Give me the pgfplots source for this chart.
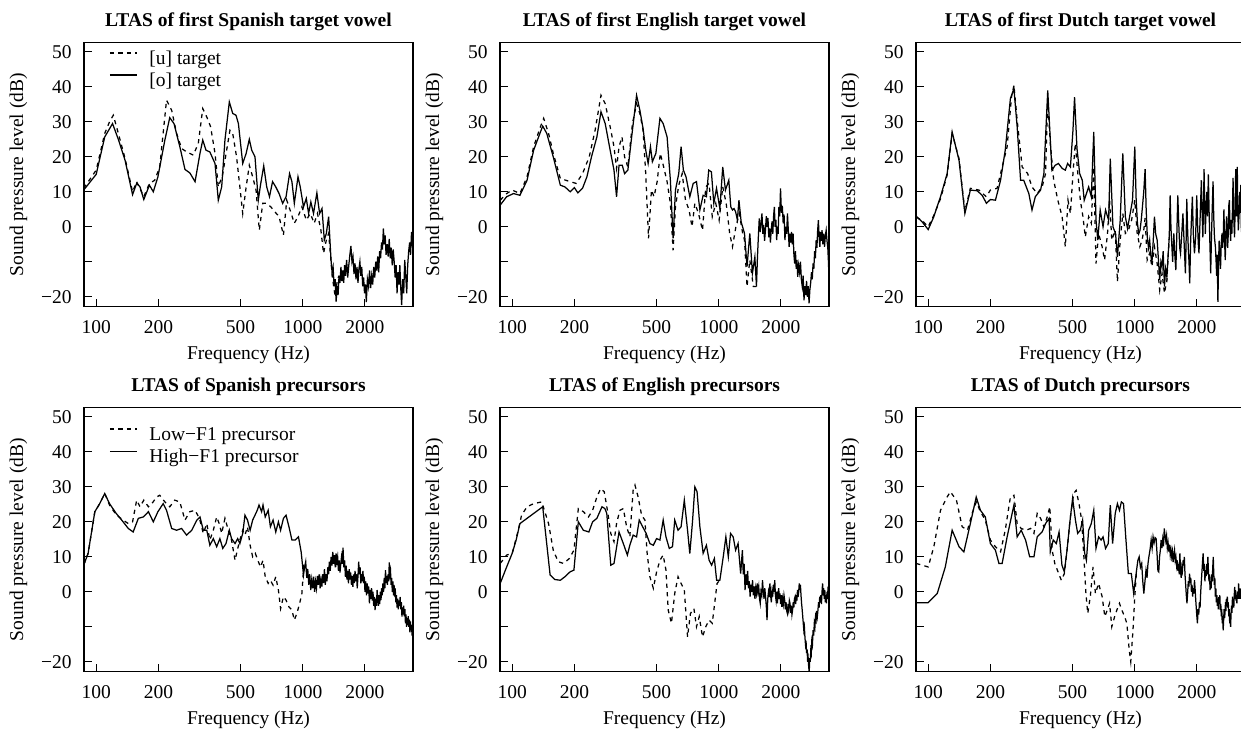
\documentclass[border=0pt]{standalone}
\usepackage{fontspec}
\setmainfont{Liberation Serif}
\usepackage{pgfplots}
\pgfplotsset{compat=1.18}
\usepgfplotslibrary{groupplots}

\newcommand{\lblfont}{\fontsize{19.5bp}{23bp}\selectfont}
\tikzset{
  dsh/.style={black, line width=1.25bp, dash pattern=on 4.2bp off 4.3bp},
  sld/.style={black, line width=1.25bp},
}
\pgfplotsset{
  ltas/.style={
    scale only axis, width=329bp, height=264.4bp,
    xmode=log, xmin=87.3, xmax=3416, ymin=-22.85, ymax=52.75,
    xtick={100,200,500,1000,2000}, xticklabels={100,200,500,1000,2000},
    ytick={-20,-10,0,10,20,30,40,50}, yticklabels={−20,,0,10,20,30,40,50},
    xminorticks=false, yminorticks=false,
    tick align=inside, xtick pos=bottom, ytick pos=left,
    major tick length=8bp, tick style={black, line width=1bp},
    axis line style={black, line width=1.2bp},
    /pgf/number format/assume math mode=true,
    font=\lblfont,
    xticklabel style={font=\lblfont, anchor=base, inner sep=0pt, yshift=-26.6bp},
    yticklabel style={font=\lblfont, anchor=east, inner sep=0pt, xshift=-12.3bp},
    xlabel={Frequency (Hz)}, ylabel={Sound pressure level (dB)},
    xlabel style={font=\lblfont, at={(axis description cs:0.5,0)}, anchor=base, inner sep=0pt, yshift=-52.6bp},
    ylabel style={font=\lblfont, at={(axis description cs:-0.185,0.5)}, anchor=base, inner sep=0pt},
    title style={font=\bfseries\lblfont, at={(axis description cs:0.5,1)}, anchor=base, inner sep=0pt, yshift=9.4bp},
    legend cell align=left,
    legend image code/.code={\draw[#1] (0bp,5.5bp) -- (27bp,5.5bp);},
  },
}

\begin{document}
\begin{tikzpicture}
\begin{groupplot}[group style={group size=3 by 2, horizontal sep=87bp, vertical sep=100.6bp}, ltas]

% ---------- first Spanish target vowel ----------
\nextgroupplot[title={LTAS of first Spanish target vowel},
  legend style={draw=none, fill=none, at={(axis description cs:0.076,0.968)}, anchor=north west,
    inner sep=0pt, row sep=7bp, column sep=12bp, nodes={inner sep=0pt}, font=\lblfont}]
\coordinate (tl) at (rel axis cs:0,1);
\addplot[dsh] coordinates {(87,11)(100,16.2)(110,26.7)(116,30)(121,31.9)(128,26.7)(138,19.5)(150,10)(157,12.9)(170,8.6)(181,12.4)(192,13.3)(203,17.1)(219,36.2)(232,33.3)(245,26.7)(259,22.4)(274,21.4)(295,20.5)(312,23.8)(328,33.8)(343,31.4)(358,28.6)(376,21)(390,11.4)(409,14.8)(428,21.9)(444,27.6)(458,26.7)(478,20)(496,11.4)(512,3.8)(532,11.4)(551,17.6)(572,14.3)(594,10.5)(616,-1)(640,6.7)(669,6.7)(700,5.7)(732,4.3)(768,2.9)(806,-2.4)(836,7.6)(868,4.8)(910,1)(948,2.9)(990,5.7)(1040,1.9)(1087,3.8)(1136,1)(1178,3.8)(1224,-1)(1260,-7.6)(1300,-3.8)(1334,-1.9)(1390,-14.3)(1435,-20)(1470,-15.2)(1498,-14)};
\addlegendentry{[u] target}
\addplot[sld] coordinates {(87,10.5)(100,15)(110,25.7)(120,29.5)(128,25)(138,19)(150,9.2)(157,12.4)(163,11.4)(170,7.8)(181,11.9)(189,10)(199,14.3)(215,24.8)(227,31.2)(238,29.5)(254,22.9)(269,16.4)(284,15.4)(301,12.9)(318,21)(328,24.8)(340,21.9)(355,21.4)(376,18.1)(390,7.6)(405,11.4)(420,24.8)(441,35.7)(458,32.4)(475,31.9)(488,29.5)(512,18.1)(532,21)(551,25)(566,21.9)(587,20)(609,7.6)(624,11.9)(647,17.4)(669,11.4)(690,8.6)(714,12.9)(740,11.4)(768,9.5)(799,6.7)(830,8.6)(863,15.2)(886,12.9)(910,6.7)(948,14.3)(972,11.4)(1008,5.7)(1040,8.1)(1067,3.8)(1094,7.1)(1127,3.8)(1170,9.7)(1206,3.8)(1239,5.2)(1271,-3.8)(1300,-1.9)(1334,2.9)(1370,-9.5)(1386,-13)(1402,-11.5)(1418,-17)(1434,-15)(1450,-21.4)(1466,-17)(1482,-19.5)(1498,-14)(1514,-16)(1530,-11.5)(1546,-15.5)(1562,-12.5)(1578,-16)(1594,-11)(1610,-14)(1630,-9.5)(1650,-14.5)(1670,-11)(1690,-8)(1710,-5.5)(1730,-10)(1750,-8.5)(1770,-13.5)(1790,-10.5)(1810,-15)(1830,-11.5)(1850,-16)(1870,-12)(1890,-10)(1910,-14)(1930,-11.5)(1950,-17)(1970,-14.5)(1990,-19)(2010,-16.5)(2030,-21.5)(2055,-15)(2080,-17)(2105,-12.5)(2130,-17.5)(2155,-14)(2180,-16.5)(2205,-11.5)(2230,-14.5)(2255,-10)(2280,-12.5)(2305,-8.5)(2330,-13)(2355,-7)(2380,-9)(2405,-4.5)(2430,-6.5)(2455,-0.5)(2480,-5)(2505,-2.5)(2530,-8)(2560,-5)(2590,-8.5)(2620,-3.5)(2650,-9)(2680,-6)(2710,-11)(2740,-6.5)(2770,-10)(2800,-14.5)(2830,-11)(2860,-19)(2890,-13)(2920,-16.5)(2950,-11)(2980,-17.5)(3010,-22.4)(3045,-15)(3080,-19)(3115,-9.5)(3150,-14)(3185,-19)(3220,-11)(3255,-7)(3290,-4.5)(3325,-8)(3360,-1.5)(3395,-5)(3430,-7.6)};
\addlegendentry{[o] target}

% ---------- first English target vowel ----------
\nextgroupplot[title={LTAS of first English target vowel}]
\addplot[dsh] coordinates {(87.5,7.6)(94,9.5)(100,10.5)(109,9.5)(118,14.3)(127,22.9)(137,28.6)(142,31)(150,26.7)(158,21)(171,13.8)(191,12.9)(204,12.4)(219,15.2)(236,20)(252,27.6)(269,37.6)(282,35.2)(298,28.6)(311,22.9)(320,16.7)(329,22.9)(340,25.7)(350,20)(363,17.1)(382,29.5)(400,35.2)(415,32.4)(430,27.6)(443,15.2)(457,-3.3)(472,10.5)(486,8.6)(503,12.9)(521,21)(541,17.1)(562,12.9)(583,6.7)(601,-6.7)(617,5.7)(640,11.9)(665,15.2)(690,7.6)(718,4.8)(742,0)(766,6.7)(798,3.8)(834,-1)(865,11.4)(897,12.4)(930,2.9)(967,6.7)(1004,1.9)(1045,11.4)(1086,6.7)(1129,-1.9)(1165,-5.7)(1210,0)(1257,3.8)(1305,-1.9)(1332,-3.8)(1370,-17.1)(1413,-9.5)(1470,-17.1)(1522,-17.1)};
\addplot[sld] coordinates {(87.5,6.2)(94,8.6)(101.5,9.5)(109,9)(118,13.3)(127,21.9)(137,27.1)(140.5,28.8)(147,26.7)(158,20)(171,11.9)(180,11.4)(191,10)(200,11.2)(208,9.7)(219,11)(230,14.3)(242,20)(257,25.7)(269,32.9)(282,29.5)(298,21.9)(311,16.2)(320,8.6)(329,17.6)(341,17.6)(350,15.2)(363,16.2)(382,27.6)(400,37.6)(415,33.3)(430,28.1)(443,21.9)(455,18.1)(467,22.9)(477,18.6)(496,21)(519,31)(538,29.5)(562,25.7)(583,13.3)(601,-3.3)(617,10.5)(640,15.2)(657,22.9)(674,16.2)(694,14.3)(724,8.6)(752,12.4)(780,12.9)(810,4.8)(840,9)(871,8.6)(894,16.2)(921,15.7)(946,6.7)(975,11)(1012,5.2)(1045,17.1)(1077,10.5)(1118,13.3)(1143,5.7)(1165,4.8)(1185,5.2)(1206,4.3)(1230,2)(1252,7.6)(1283,1.4)(1332,-1.9)(1370,-11.4)(1413,-1.9)(1455,-13.3)(1495,-8.6)(1522,-17.1)(1538,-9)(1554,-3)(1570,2.4)(1586,-1.5)(1602,1)(1618,3.8)(1634,-2)(1650,0.5)(1666,-4)(1682,-1)(1698,3)(1714,0)(1730,2.5)(1746,-3)(1762,-0.5)(1778,-4.5)(1794,-1)(1810,1.5)(1826,-2)(1842,3)(1858,5.7)(1874,0)(1890,2)(1906,-3.8)(1922,0)(1938,-2)(1954,5.7)(1972,3)(1990,11)(2010,4)(2030,6)(2050,1)(2070,3.5)(2090,-3.8)(2110,0)(2130,-2)(2150,3.8)(2170,-1)(2190,-5.7)(2210,-2)(2230,-4.5)(2250,-1.5)(2270,-5)(2290,-2)(2310,-8)(2330,-10.5)(2350,-7)(2370,-12)(2390,-9.5)(2410,-14.3)(2435,-11)(2460,-13)(2485,-10)(2510,-15)(2535,-17.1)(2560,-14)(2585,-21)(2610,-17)(2635,-19.5)(2660,-15.5)(2685,-20)(2710,-17)(2735,-21.9)(2760,-18)(2785,-16)(2810,-13)(2835,-15)(2860,-10.5)(2885,-12)(2910,-7)(2935,-9)(2960,-3.8)(2985,-6)(3010,-1)(3035,1.9)(3060,-3)(3085,-5.7)(3110,-1.5)(3135,-4)(3160,-1)(3190,-5)(3220,-2)(3250,-5.7)(3280,-2.5)(3310,-1)(3340,-4)(3370,-6)(3395,-10)(3413,-14.3)};

% ---------- first Dutch target vowel ----------
\nextgroupplot[title={LTAS of first Dutch target vowel}]
\addplot[dsh] coordinates {(87.5,2.8)(93.5,1.8)(100,0)(106.5,3.3)(114.7,8)(123.5,14.8)(130.6,26.7)(141,19.5)(150.5,4.5)(160,11)(176,10.5)(191,8.6)(200,10.5)(215.5,11)(228,17.1)(241,22.9)(253,37.1)(260,40.5)(269.5,30.5)(285,17.1)(303,15.2)(318,11.4)(337,9.5)(356,11.4)(370,15.2)(379,36.2)(390,23.8)(405,13.3)(424,7.6)(445,2.9)(461,-5.7)(475,7.6)(488,3.8)(502,15.2)(515,23.8)(530,15.2)(545,7.6)(561,2.9)(576,-2.9)(598,2.9)(616,1)(633,17.1)(649,-10.5)(668,-1.9)(695,-5.7)(714,-9.5)(738,-1.9)(755,7.6)(774,-3.8)(804,-1)(824,-15.7)(850,-3.8)(875,3.8)(900,-1.9)(931,-1)(965,1.9)(1000,7.6)(1027,-1.9)(1058,-5.7)(1085,-3.8)(1105,-1)(1122,2.5)(1148,-9.5)(1180,-7.6)(1210,-11.4)(1245,-5.7)(1283,-10.5)(1320,-18.1)(1355,-13.3)(1392,-19)(1430,-15.2)(1468,-3)};
\addplot[sld] coordinates {(87.5,3)(93.5,1.4)(100,-0.8)(106.5,2.9)(114.7,8.6)(123.5,15.2)(130.6,27.1)(141,19)(150.5,3.8)(160,10.5)(172.6,10.3)(182.5,9)(191.5,6.7)(200,7.8)(211.6,7.6)(224,13.3)(236,21.9)(250,36.7)(260,39.5)(269.5,28.6)(280,13.3)(290,13.3)(307,9.5)(318,4.8)(330,8.6)(350,10.5)(363,15.2)(379,39)(397,16.2)(412,17.6)(427,18.1)(445,16.7)(461,16.2)(473,18.1)(488,17.1)(502,27.6)(511,37.1)(525,22.4)(541,15.2)(557,13.3)(569,7.6)(598,11.4)(616,8.6)(633,27.1)(649,1.9)(662,-3.8)(680,4.8)(702,0)(722,4.8)(747,1.9)(761,19.5)(784,0)(807,-1.9)(824,-8.6)(850,1.9)(875,21)(900,2.9)(922,-0.5)(950,3.8)(975,7.6)(1000,22.9)(1015,8)(1030,1)(1045,-2)(1060,-1)(1075,2)(1090,6)(1105,10)(1122,16.5)(1135,5)(1150,-3)(1165,-6)(1180,-3.8)(1195,-8)(1210,-10.5)(1228,-4)(1245,2.9)(1262,-2)(1283,-3.8)(1300,-9)(1320,-15.2)(1338,-10)(1355,-11.4)(1372,-7)(1392,-17.1)(1410,-12)(1430,-14.3)(1450,-8)(1468,-3)(1483,9)(1496,0)(1510,-5)(1525,-10)(1545,-1.9)(1562,-8)(1580,-12.4)(1598,-2)(1615,9)(1632,1)(1650,-6)(1665,-7.6)(1688,-2)(1710,3.8)(1734,-5)(1758,-13.3)(1772,-4)(1785,8)(1800,0)(1815,-6)(1830,-10)(1845,-16.2)(1862,-5)(1880,2)(1900,8.6)(1920,-2)(1945,-7.6)(1970,-3)(1995,9)(2015,0)(2030,-5)(2045,-7.6)(2062,-1)(2080,6)(2100,13.3)(2118,4)(2135,-3)(2150,5)(2164,16.5)(2180,6)(2195,-2)(2212,5)(2230,10)(2250,3)(2270,15)(2290,4)(2310,-5)(2330,-13.3)(2350,-3)(2370,5)(2392,13)(2410,3)(2430,-3)(2455,-5.7)(2475,-10)(2490,-14)(2505,-8)(2525,-21.5)(2545,-10)(2560,-4)(2580,-7.6)(2600,-12)(2620,-5)(2643,-1.9)(2660,-6)(2680,-3)(2700,5)(2720,-4)(2740,-9.5)(2760,-3)(2780,3)(2795,0)(2815,-6)(2835,-2)(2850,6)(2870,7.6)(2890,0)(2910,-4)(2930,2)(2950,-2)(2970,5)(2990,14)(3005,6)(3020,1)(3040,-3)(3060,5)(3080,16.5)(3095,8)(3110,3)(3134,17.1)(3150,6)(3170,-1)(3200,3.8)(3220,10)(3240,4)(3260,12)(3278,0)(3300,-3)(3330,4)(3350,6)(3380,0)(3416,-2)};

% ---------- Spanish precursors ----------
\nextgroupplot[title={LTAS of Spanish precursors},
  legend style={draw=none, fill=none, at={(axis description cs:0.076,0.925)}, anchor=north west,
    inner sep=0pt, row sep=7.5bp, column sep=12bp, nodes={inner sep=0pt}, font=\lblfont}]
\addplot[dsh] coordinates {(87,7.6)(91.4,11)(98.5,22.9)(104,25.2)(110,28.1)(116,24.8)(125,22)(135,20.5)(143,19.5)(150,20)(157,26.2)(163,24.3)(170,26.2)(179,24.3)(186,25.2)(196,27.1)(203,27.6)(215,25.7)(227,24.3)(240,26.2)(254,25.7)(269,20.5)(284,22.9)(301,23.3)(316,21)(330,16.7)(343,19.5)(355,14.8)(369,17.6)(383,21.4)(394,19.5)(405,16.7)(420,21)(436,17.6)(452,14.8)(470,9)(482,11.9)(496,14.8)(512,17.6)(525,16.2)(540,18.6)(556,13.3)(572,10)(589,11)(606,9)(624,7.1)(642,9)(658,4.3)(680,2.4)(697,3.3)(718,1.9)(740,4.3)(762,0.5)(781,-4.8)(806,-1.4)(830,-2.4)(857,-4.3)(886,-5.2)(910,-8.1)(936,-6.2)(966,-3.3)(990,-0.5)(1013,8.1)(1033,8.6)};
\addlegendentry{Low−F1 precursor}
\addplot[sld] coordinates {(87,7.6)(91.4,11)(98.5,22.9)(104,25.2)(110,28.1)(116,25.2)(125,22.4)(135,20)(143,18.1)(151,17.1)(160,21)(169,21.4)(179,22.9)(189,20)(199,22.9)(211,25.2)(219,23.3)(232,18.1)(245,17.6)(259,18.1)(274,16.2)(290,17.6)(307,20.5)(318,21.4)(330,17.6)(343,17.6)(355,13.3)(369,15.2)(383,12.9)(397,15.2)(410,12.4)(425,13.8)(441,17.6)(452,15.2)(470,13.8)(484,15.2)(496,13.8)(512,16.7)(525,21.9)(540,20.5)(556,17.6)(572,20.5)(587,21.9)(602,23.3)(614,24.8)(632,22.9)(642,24.8)(658,21.4)(680,23.3)(697,18.6)(718,20.5)(740,17.1)(762,20)(781,17.6)(806,21)(830,21.9)(857,18.6)(886,14.8)(920,14.8)(953,15.7)(982,11.4)(1008,4.8)(1020,7)(1033,8.6)(1045,4)(1057,6.5)(1069,2)(1081,5)(1093,0.5)(1105,3.5)(1117,1)(1129,4.3)(1141,0)(1153,3)(1165,1)(1177,4.5)(1189,2)(1201,5)(1213,1)(1225,3.5)(1237,1.5)(1249,5)(1261,2.5)(1273,6.5)(1285,2)(1297,5)(1309,3)(1321,7)(1333,5)(1345,8.6)(1358,6)(1371,10)(1384,7.5)(1397,11.4)(1410,8)(1423,10.5)(1436,7)(1449,11)(1462,8.5)(1475,10)(1488,6)(1501,9)(1514,5.5)(1527,8)(1540,10)(1553,8)(1566,12.6)(1580,7)(1594,9)(1608,4.3)(1622,7.5)(1636,3.5)(1650,6)(1664,2.4)(1678,6.5)(1692,3.5)(1706,5.5)(1720,2)(1734,4.5)(1748,1.4)(1762,5)(1776,2.5)(1790,6)(1805,3)(1820,5)(1835,1)(1850,4.5)(1865,8.6)(1880,5)(1895,7)(1910,2.4)(1925,5)(1940,3)(1955,6)(1970,2.5)(1985,4.3)(2000,0)(2017,3)(2034,-1)(2051,2.4)(2068,-0.5)(2085,1.5)(2102,-3.3)(2119,0.5)(2136,-2)(2153,1)(2170,-2.5)(2187,0)(2204,-4)(2221,-1.5)(2238,-5.2)(2255,-2)(2272,-4)(2289,0.5)(2306,-2)(2323,-4)(2340,-1)(2357,-3.5)(2374,0)(2391,-2.4)(2408,1)(2425,-1)(2442,2.4)(2460,0)(2478,4)(2496,1)(2514,6.2)(2532,2.5)(2550,4.5)(2568,2)(2586,5)(2604,3)(2622,8.4)(2640,5)(2658,6)(2676,2)(2694,4)(2712,0)(2730,3)(2748,-1)(2766,2)(2784,-1.4)(2802,1)(2820,-3)(2840,-1)(2860,-4.5)(2880,-2)(2900,-5)(2920,-2.5)(2940,-4)(2960,-1.5)(2980,-5)(3000,-3)(3020,-7.1)(3040,-4.5)(3060,-6.5)(3080,-4)(3100,-7)(3120,-5)(3140,-9)(3160,-6.5)(3180,-10)(3200,-7.5)(3220,-9.5)(3240,-7)(3260,-10)(3280,-8)(3300,-11.6)(3320,-8.5)(3340,-11)(3360,-9.5)(3380,-12.5)(3400,-10.5)(3430,-12.9)};
\addlegendentry{High−F1 precursor}

% ---------- English precursors ----------
\nextgroupplot[title={LTAS of English precursors}]
\addplot[dsh] coordinates {(87.5,8.1)(94,10.5)(100,11)(107,17.6)(111,21.9)(118,24.3)(127,25.2)(139,25.7)(150,19.5)(158,11.9)(167,8.6)(177,8.1)(189,9.5)(199,11.9)(209,23.8)(221,22.9)(234,21.4)(245,23.3)(257,27.1)(268,29.5)(279,28.6)(289,23.3)(300,16.7)(311,14.3)(320,19.5)(332,23.3)(345,23.8)(358,18.6)(371,15.7)(385,29)(393,30.5)(407,27.1)(423,21.9)(439,20.5)(450,11)(464,4.3)(482,1)(500,5.7)(519,9)(538,10.5)(555,6.2)(569,-5.2)(590,-9)(612,-0.5)(635,4.3)(657,2.4)(681,0.5)(706,-12.9)(729,-6.2)(758,-4.8)(780,-10)(804,-7.1)(834,-12.9)(865,-10)(898,-8.1)(930,-9)(955,-3.3)(981,2.4)(1012,3.3)};
\addplot[sld] coordinates {(87.5,2.4)(94,7.1)(100,11)(104.5,14.8)(109,19.5)(140.5,24.3)(152.6,4.8)(161,3.5)(171,3.3)(180,4.3)(190.6,5.7)(199,6.2)(209,20)(221,17.6)(235,17.1)(245,20)(257,21)(272,24.3)(281,23.8)(287,22.4)(300,7.6)(311,8.1)(329,17.1)(345,13.8)(361,10.5)(371,13.3)(385,16.2)(400,15.7)(412,20.5)(428,18.6)(445,16.7)(464,13.8)(482,13.3)(500,15.2)(519,14.8)(538,20.5)(555,15.7)(576,12.4)(597,12.9)(612,20.5)(635,17.6)(657,18.6)(681,26.2)(706,17.6)(724,10.9)(746,20)(766,30)(785,28.6)(810,18.6)(840,11)(871,13.3)(898,9)(923,7.6)(952,9.5)(976,3.3)(1012,3.3)(1051,10)(1082,15.7)(1112,10)(1140,16.7)(1174,15.7)(1206,11.9)(1240,13.8)(1276,5.2)(1301,11.9)(1314,5)(1327,8)(1340,0.5)(1353,5)(1366,2)(1379,6)(1392,1)(1405,3)(1418,-1.4)(1431,2)(1444,0)(1457,3.3)(1470,-1)(1483,1.5)(1496,-2)(1509,1)(1522,-0.5)(1535,2.4)(1548,0)(1561,1.5)(1574,-2)(1587,-3.3)(1600,0)(1614,-1)(1628,3.3)(1642,0)(1656,-2)(1670,1)(1684,-1.4)(1698,-4)(1712,-8.1)(1726,-2)(1740,0)(1754,-1.5)(1768,2.4)(1782,-1)(1796,-3)(1810,0)(1824,-1.4)(1838,2)(1852,0)(1866,3.3)(1880,-1)(1894,-2.5)(1908,0)(1922,-3.3)(1936,-0.5)(1950,1)(1964,-2)(1978,-0.5)(1992,-3.5)(2006,-1)(2020,-4.3)(2036,-2)(2052,-3.5)(2068,-1)(2084,-2.4)(2100,-5)(2116,-3)(2132,-5.5)(2148,-6.2)(2164,-3.5)(2180,-5)(2196,-2.5)(2212,-3.3)(2228,-6)(2244,-4)(2260,-6.5)(2276,-5.2)(2292,-3)(2308,-4.5)(2324,-2)(2340,-1.4)(2356,-3.5)(2372,-1)(2388,-2.5)(2404,0.5)(2420,-1.5)(2436,0)(2452,2.4)(2468,0.5)(2484,2)(2500,-1)(2516,-3.3)(2532,-5)(2548,-7)(2564,-9)(2580,-11)(2596,-10)(2612,-13)(2628,-15)(2644,-14)(2660,-17.5)(2676,-16.5)(2692,-20)(2708,-19)(2724,-21.5)(2740,-22.9)(2756,-19)(2772,-20)(2788,-16.7)(2804,-17.5)(2820,-14)(2840,-15)(2860,-11)(2880,-12.5)(2900,-9)(2920,-10)(2940,-7.1)(2960,-8)(2980,-5.5)(3000,-7)(3020,-5.2)(3040,-3)(3060,-4.5)(3080,-1.4)(3100,-3)(3120,-1)(3140,-3.5)(3160,0)(3180,2.4)(3200,-1)(3220,1)(3240,-2)(3260,0.5)(3280,-3)(3300,-1)(3320,-3.3)(3340,0)(3360,-2)(3380,1.5)(3395,0)(3413,3.3)};

% ---------- Dutch precursors ----------
\nextgroupplot[title={LTAS of Dutch precursors}]
\addplot[dsh] coordinates {(87.5,8.1)(93.5,7.6)(100,7.1)(106.5,12.9)(114.7,23.3)(123.5,27.1)(128,28.6)(137,26.2)(146,18.6)(155,17.6)(163,22.4)(171,25.7)(179,22.9)(189,20.5)(200,14.8)(211.5,12.9)(224,11.4)(236,17.6)(250,27.1)(260,27.6)(269.5,19.5)(282,18.1)(298,17.6)(313,18.1)(325,16.7)(337,22.4)(350,21)(363,18.6)(377,21.4)(388,24.3)(398,11.9)(410,8.1)(425,5.7)(441,3.3)(456,5.2)(470,11.9)(488,21.4)(506,28.1)(520,29)(537,25.2)(553,20.5)(567,10)(580,-0.5)(592,-6.2)(609,-1.4)(628,7.1)(645,-0.5)(668,2.4)(695,-1.4)(716,-7.1)(736,-5.2)(755,-3.3)(774,-10)(799,-7.1)(819,-5.2)(843,-3.3)(865,-5.2)(893,-7.1)(915,-9)(940,-16.7)(956,-20)(980,-11)(1000,-1.4)(1020,6.2)};
\addplot[sld] coordinates {(87.5,-3.1)(100,-3.1)(110.6,-0.5)(121,7.1)(130.6,17.6)(141,12.9)(148.8,11.4)(160,19.5)(170.8,27.1)(179,23.3)(189,21.4)(200,13.8)(211.5,11.9)(220,8.1)(228,8.1)(241,15.7)(260,24.8)(269.5,15.7)(282,17.6)(296,14.8)(310,10)(325,10)(337,15.7)(356,17.1)(370,19.5)(385,21)(390,11.4)(403,14.8)(417,13.8)(430,17.1)(444,7.6)(456,5.7)(470,11.9)(484,19.5)(500,26.7)(516,20.5)(529,16.7)(545,17.6)(559,20.5)(572,11)(583,9)(598,17.6)(616,19.5)(633,23.3)(649,12.4)(668,15.7)(687,14.8)(702,15.7)(722,12.4)(744,13.8)(761,24.8)(781,13.8)(804,22.4)(824,25.2)(843,23.3)(861,25.7)(882,25.2)(904,15.7)(931,5.2)(962,5.2)(988,-0.5)(1020,6.2)(1035,9)(1050,10)(1065,7)(1080,8.1)(1093,3)(1106,-0.5)(1120,3)(1133,6.2)(1146,4)(1158,8)(1170,10)(1185,12)(1200,14.8)(1213,12.5)(1226,15.7)(1240,14)(1254,15.5)(1268,15.2)(1281,11)(1294,6)(1306,5.7)(1318,10)(1330,12)(1341,14.8)(1353,12.5)(1365,15)(1377,13)(1389,18.1)(1401,16)(1413,14.5)(1425,16)(1437,12.5)(1449,14)(1461,11.5)(1473,13.5)(1485,10.5)(1497,12)(1509,10)(1521,11.5)(1533,8.5)(1545,10.5)(1557,11.9)(1569,9)(1581,10)(1593,7.5)(1605,9)(1617,6)(1629,8)(1641,5)(1653,11)(1665,6)(1677,4)(1689,7)(1701,6)(1713,9)(1725,7.5)(1737,10)(1750,5)(1763,2)(1776,-1)(1789,-3.3)(1802,-0.5)(1815,3)(1828,1.5)(1841,5.2)(1854,2.5)(1867,4)(1880,0)(1893,2)(1906,-1.4)(1919,1)(1932,-0.5)(1945,3.3)(1958,1)(1971,-2)(1984,-4.5)(1997,-7)(2010,-9)(2025,-5)(2040,-6.5)(2055,-3)(2070,-4.5)(2085,0)(2100,3)(2115,6)(2130,9)(2142,11)(2155,6)(2170,8)(2185,3)(2200,6.2)(2215,4.5)(2230,8)(2245,5)(2258,10)(2272,6)(2286,3)(2300,5)(2314,0.5)(2328,3)(2342,1)(2356,5)(2370,3)(2384,7)(2398,10)(2412,5)(2426,2)(2440,4)(2454,-1.4)(2468,1)(2482,-3)(2496,-1)(2510,-4)(2524,-2)(2538,-5)(2552,-1.5)(2566,-3.3)(2580,-1)(2594,-5.2)(2608,-3.5)(2622,-7)(2636,-5)(2650,-9)(2664,-7)(2678,-11)(2692,-8)(2706,-5)(2720,-7.5)(2734,-6)(2748,-3)(2762,-5.5)(2776,-2)(2790,-4)(2805,-1.4)(2820,-4.5)(2835,-3)(2850,-7)(2865,-5)(2880,-9)(2895,-7.5)(2910,-10)(2925,-6)(2940,-4)(2955,-6)(2970,-1.4)(2985,-3.5)(3000,-2)(3015,-4.5)(3030,-1)(3045,1.4)(3060,-2)(3075,0.5)(3090,-2.5)(3105,-1)(3120,-3.3)(3135,-1)(3150,0)(3165,-2)(3180,2.4)(3195,0)(3210,-2)(3225,1)(3240,-1.5)(3255,0.5)(3270,-2)(3285,1)(3300,-0.5)(3330,2)(3360,0)(3390,1.5)(3416,-1)};

\end{groupplot}
\pgfresetboundingbox
\path (tl) ++(-84bp,42.3bp) rectangle ++(1241bp,-729bp);
\end{tikzpicture}
\end{document}
